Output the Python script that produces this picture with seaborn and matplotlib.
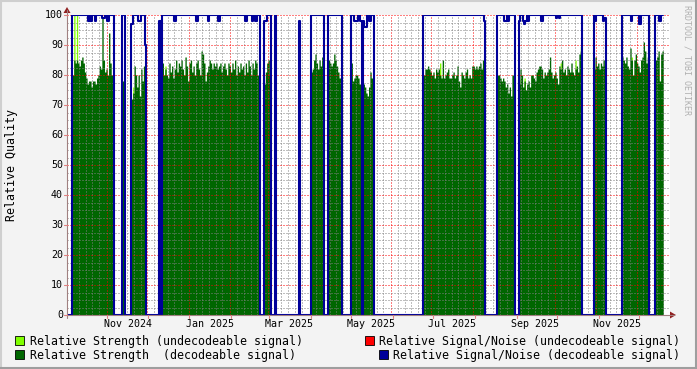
import numpy as np
import pandas as pd
import matplotlib
matplotlib.use("Agg")
import matplotlib.pyplot as plt
import matplotlib.dates as mdates
import matplotlib.transforms as mtransforms
from matplotlib.patches import Rectangle, Polygon
from matplotlib.lines import Line2D
import seaborn as sns

# ---------------- data ----------------
x_start = "2024-10-02"
x_end = "2025-12-24"
data_last_day = "2025-12-20"

# relative strength (decodeable) and relative signal/noise (decodeable), per day, per recorded stretch
start_a = "2024-10-06"
strength_a = [80, 85, 84, 85, 84, 83, 85, 86, 84, 81, 79, 77, 78, 78, 76, 78, 78, 77, 79, 80,
              83, 82, 99, 85, 81, 82, 80, 94, 84, 80, 80]
snr_a = [100, 100, 100, 100, 100, 100, 100, 100, 100, 100, 100, 100, 98, 100, 98, 100, 100, 98, 100, 100,
         100, 100, 99, 99, 100, 100, 98, 100, 100, 100, 100]

start_b = "2024-11-12"
strength_b = [78, 78]
snr_b = [100, 100]

start_c = "2024-11-19"
strength_c = [72, 74, 83, 80, 76, 80, 73, 82, 78, 83, 79]
snr_c = [97, 100, 100, 100, 100, 98, 98, 100, 100, 100, 90]

start_c2 = "2024-12-10"
strength_c2 = [0]
snr_c2 = [98]

start_d = "2024-12-12"
strength_d = [84, 80, 82, 80, 79, 84, 81, 83, 79, 82,
              85, 81, 84, 83, 85, 82, 80, 86, 83, 78,
              84, 85, 81, 83, 80, 84, 85, 82, 80, 88,
              87, 84, 78, 81, 83, 85, 84, 82, 84, 83,
              84, 82, 83, 84, 81, 83, 84, 82, 80, 84,
              83, 81, 84, 82, 85, 80, 83, 81, 84, 82,
              83, 80, 84, 81, 85, 83, 80, 84, 82, 85,
              84, 80, 84]
snr_d = [100, 100, 100, 100, 100, 100, 100, 100, 100, 98,
         100, 100, 100, 100, 100, 100, 100, 100, 100, 100,
         100, 100, 100, 100, 100, 98, 98, 100, 100, 100,
         100, 100, 100, 100, 98, 100, 100, 100, 100, 100,
         100, 100, 98, 100, 100, 100, 100, 100, 100, 100,
         100, 100, 100, 100, 100, 100, 100, 100, 100, 100,
         100, 100, 98, 100, 100, 100, 100, 98, 100, 98,
         98, 100, 100]

start_e = "2025-02-26"
strength_e = [77, 81, 84, 85, 80]
snr_e = [98, 98, 100, 100, 100]

start_e2 = "2025-03-06"
strength_e2 = [0]
snr_e2 = [100]

start_e3 = "2025-03-24"
strength_e3 = [0]
snr_e3 = [98]

start_f = "2025-04-02"
strength_f = [81, 82, 85, 87, 84, 82, 85, 83, 86, 80]
snr_f = [100, 100, 100, 100, 100, 100, 100, 100, 100, 100]

start_g = "2025-04-15"
strength_g = [85, 84, 83, 84, 87, 85, 83, 81, 79, 79]
snr_g = [100, 100, 100, 100, 100, 100, 100, 100, 100, 100]

start_h = "2025-05-02"
strength_h = [84, 78, 79, 80, 80, 79, 77, 77, 0, 77, 76, 74, 73, 76, 81, 79, 80]
snr_h = [100, 100, 98, 98, 98, 100, 100, 98, 0, 98, 96, 96, 100, 98, 98, 100, 100]

start_i = "2025-06-25"
strength_i = [80, 82, 82, 83, 82, 81, 80, 81, 79, 82, 81, 82, 80, 79, 85, 79, 80, 81, 82, 79,
              79, 80, 81, 79, 80, 83, 78, 76, 81, 80, 79, 81, 82, 79, 80, 79, 83, 83, 82, 83,
              82, 83, 84, 82, 85, 80]
snr_i = [100] * 45 + [98]

start_j = "2025-08-19"
strength_j = [80, 80, 79, 78, 79, 78, 76, 77, 74, 76, 73, 80, 80]
snr_j = [100, 100, 100, 100, 100, 98, 98, 100, 98, 100, 100, 100, 100]

start_k = "2025-09-04"
strength_k = [77, 82, 80, 76, 78, 75, 77, 78, 76, 80,
              80, 79, 78, 81, 82, 83, 83, 82, 79, 81,
              80, 81, 82, 86, 81, 79, 80, 81, 79, 77,
              83, 82, 85, 81, 82, 80, 83, 82, 81, 84,
              81, 80, 82, 83, 81, 87, 88]
snr_k = [98, 100, 100, 98, 97, 98, 100, 98, 100, 100,
         100, 100, 100, 100, 100, 100, 100, 98, 100, 100,
         100, 100, 100, 100, 100, 100, 100, 100, 99, 100,
         99, 100, 100, 100, 100, 100, 100, 100, 100, 100,
         100, 100, 100, 100, 100, 100, 100]

start_l = "2025-10-30"
strength_l = [82, 86, 83, 84, 82, 84, 83, 85, 83]
snr_l = [100, 98, 100, 100, 100, 100, 100, 98, 99]

start_m = "2025-11-20"
strength_m = [86, 85, 84, 86, 83, 82, 89, 85, 80, 85, 87, 84, 83, 81, 85, 86, 91, 88, 84, 86]
snr_m = [100, 100, 100, 100, 100, 100, 100, 98, 100, 100, 100, 100, 100, 97, 100, 100, 100, 100, 100, 100]

start_n = "2025-12-15"
strength_n = [85, 86, 88, 78, 87, 88]
snr_n = [100, 100, 100, 98, 100, 100]

# relative strength (undecodeable signal)
undecodeable_dates = ["2024-10-07", "2024-10-09", "2024-11-20", "2024-12-14", "2025-07-07",
                      "2025-09-04", "2025-09-08", "2025-10-05", "2025-10-16", "2025-10-20", "2025-11-27"]
undecodeable_strength = [100, 100, 76, 83, 84, 78.5, 79, 84, 85, 89.5, 86]

month_label_text = ["Nov 2024", "Jan 2025", "Mar 2025", "May 2025", "Jul 2025", "Sep 2025", "Nov 2025"]
legend_labels = ["Relative Strength (undecodeable signal)",
                 "Relative Strength  (decodeable signal)",
                 "Relative Signal/Noise (undecodeable signal)",
                 "Relative Signal/Noise (decodeable signal)"]

# ---------------- build daily series ----------------
days = pd.date_range(x_start, data_last_day, freq="D")
strength = pd.Series(0.0, index=days)
snr = pd.Series(0.0, index=days)
undec = pd.Series(0.0, index=days)
for st, s_vals, n_vals in [
    (start_a, strength_a, snr_a), (start_b, strength_b, snr_b), (start_c, strength_c, snr_c),
    (start_c2, strength_c2, snr_c2), (start_d, strength_d, snr_d), (start_e, strength_e, snr_e),
    (start_e2, strength_e2, snr_e2), (start_e3, strength_e3, snr_e3), (start_f, strength_f, snr_f),
    (start_g, strength_g, snr_g), (start_h, strength_h, snr_h), (start_i, strength_i, snr_i),
    (start_j, strength_j, snr_j), (start_k, strength_k, snr_k), (start_l, strength_l, snr_l),
    (start_m, strength_m, snr_m), (start_n, strength_n, snr_n)]:
    idx = pd.date_range(st, periods=len(s_vals), freq="D")
    strength.loc[idx] = s_vals
    snr.loc[idx] = n_vals
for d, v in zip(undecodeable_dates, undecodeable_strength):
    undec.loc[pd.Timestamp(d)] = v

xnum = mdates.date2num(days.to_pydatetime())
xs = np.append(xnum, xnum[-1] + 1)
def ext(s):
    a = s.values.astype(float)
    return np.append(a, a[-1])

# ---------------- figure ----------------
W, H = 697, 369
sns.set_style("white")
plt.rcParams["font.family"] = ["DejaVu Sans Mono"]
fig = plt.figure(figsize=(W / 100, H / 100), dpi=100, facecolor="#F3F3F3")
L, R, T, B = 67, 670, 15, 315
ax = fig.add_axes([L / W, 1 - B / H, (R - L) / W, (B - T) / H])
ax.set_facecolor("white")

LIME = "#80FF00"
GREEN = "#006600"
RED = "#FF0000"
NAVY = "#000099"

ax.fill_between(xs, 0, ext(undec), step="post", color=LIME, linewidth=0, zorder=1)
ax.fill_between(xs, 0, ext(strength), step="post", color=GREEN, linewidth=0, zorder=1.1)
sns.lineplot(x=xs, y=ext(snr), drawstyle="steps-post", color=NAVY, linewidth=1.5,
             estimator=None, sort=False, ax=ax, zorder=3)

x0 = mdates.date2num(pd.Timestamp(x_start))
x1 = mdates.date2num(pd.Timestamp(x_end))
ax.set_xlim(x0, x1)
ax.set_ylim(0, 100)

# grid
month_starts = pd.date_range("2024-11-01", "2025-12-01", freq="MS")
minor_days = [d for m in pd.date_range("2024-10-01", "2025-12-01", freq="MS")
              for d in [m + pd.Timedelta(days=k) for k in (5, 10, 15, 20, 25)]]
ax.set_xticks(mdates.date2num(month_starts.to_pydatetime()))
ax.set_xticks([mdates.date2num(d.to_pydatetime()) for d in minor_days], minor=True)
ax.set_xticklabels([])
ax.set_yticks(np.arange(0, 101, 10))
ax.set_yticks(np.arange(0, 101, 2.5), minor=True)
ax.set_yticklabels([])
ax.set_axisbelow(False)
ax.grid(which="minor", color=(0.5, 0.5, 0.5, 0.19), linestyle=(0, (1, 2)), linewidth=0.72)
ax.grid(which="major", color=(1.0, 0.0, 0.0, 0.3), linestyle=(0, (1, 2)), linewidth=0.72)
ax.tick_params(which="both", length=0)
for sp in ax.spines.values():
    sp.set_visible(False)

# y tick labels
for v in range(0, 101, 10):
    ax.text(-4 / (R - L), v, str(v), transform=mtransforms.blended_transform_factory(ax.transAxes, ax.transData),
            ha="right", va="center", fontsize=7.2, color="#000000")
# x month labels (centered mid-month)
trans_x = mtransforms.blended_transform_factory(ax.transData, ax.transAxes)
for lab in month_label_text:
    d = pd.Timestamp(lab) + pd.Timedelta(days=15.5)
    ax.text(mdates.date2num(d.to_pydatetime()), -9 / (B - T), lab, transform=trans_x,
            ha="center", va="center", fontsize=7.2, color="#000000")

# axes lines, ticks and arrows (pixel coordinates of the figure)
def fx(px):
    return px / W
def fy(py):
    return 1 - py / H
AXC = "#A08080"
fig.add_artist(Line2D([fx(L), fx(674)], [fy(B), fy(B)], color=AXC, lw=0.8))
fig.add_artist(Line2D([fx(L), fx(L)], [fy(318), fy(10)], color=AXC, lw=0.8))
for v in range(0, 101, 10):
    yy = B - v * 3
    fig.add_artist(Line2D([fx(64), fx(L)], [fy(yy), fy(yy)], color="#E08080", lw=0.8))
for m in month_starts:
    xm = L + (mdates.date2num(m.to_pydatetime()) - x0) / (x1 - x0) * (R - L)
    fig.add_artist(Line2D([fx(xm), fx(xm)], [fy(B), fy(B + 3)], color="#E08080", lw=0.8))
ARR = "#902020"
fig.add_artist(Polygon([[fx(670), fy(311.5)], [fx(676), fy(315)], [fx(670), fy(318.5)]],
                       closed=True, color=ARR, lw=0))
fig.add_artist(Polygon([[fx(63.5), fy(13)], [fx(67), fy(7)], [fx(70.5), fy(13)]],
                       closed=True, color=ARR, lw=0))

# y label and watermark
fig.text(fx(12), fy(165), "Relative Quality", rotation=90, ha="center", va="center",
         fontsize=8.4, color="#000000")
fig.text(fx(687), fy(5), "RRDTOOL / TOBI OETIKER", rotation=-90, ha="center", va="top",
         fontsize=6.0, color="#B0B0B0")

# legend
def swatch(xp, yp, color):
    fig.add_artist(Rectangle((fx(xp), fy(yp + 9)), 9 / W, 9 / H, facecolor=color,
                             edgecolor="#000000", linewidth=0.6))
swatch(15, 336, LIME)
fig.text(fx(30), fy(341), legend_labels[0], ha="left", va="center", fontsize=8.4, color="#000000")
swatch(15, 350, GREEN)
fig.text(fx(30), fy(355), legend_labels[1], ha="left", va="center", fontsize=8.4, color="#000000")
swatch(365, 336, RED)
fig.text(fx(680), fy(341), legend_labels[2], ha="right", va="center", fontsize=8.4, color="#000000")
swatch(379, 350, NAVY)
fig.text(fx(680), fy(355), legend_labels[3], ha="right", va="center", fontsize=8.4, color="#000000")

# frame bevel
fig.add_artist(Line2D([0, 1], [1 - 1 / H, 1 - 1 / H], color="#CFCFCF", lw=1.5))
fig.add_artist(Line2D([1 / W, 1 / W], [0, 1], color="#CFCFCF", lw=1.5))
fig.add_artist(Line2D([0, 1], [1 / H, 1 / H], color="#9E9E9E", lw=1.5))
fig.add_artist(Line2D([1 - 1 / W, 1 - 1 / W], [0, 1], color="#9E9E9E", lw=1.5))

fig.savefig("out.png", dpi=100, facecolor=fig.get_facecolor())
